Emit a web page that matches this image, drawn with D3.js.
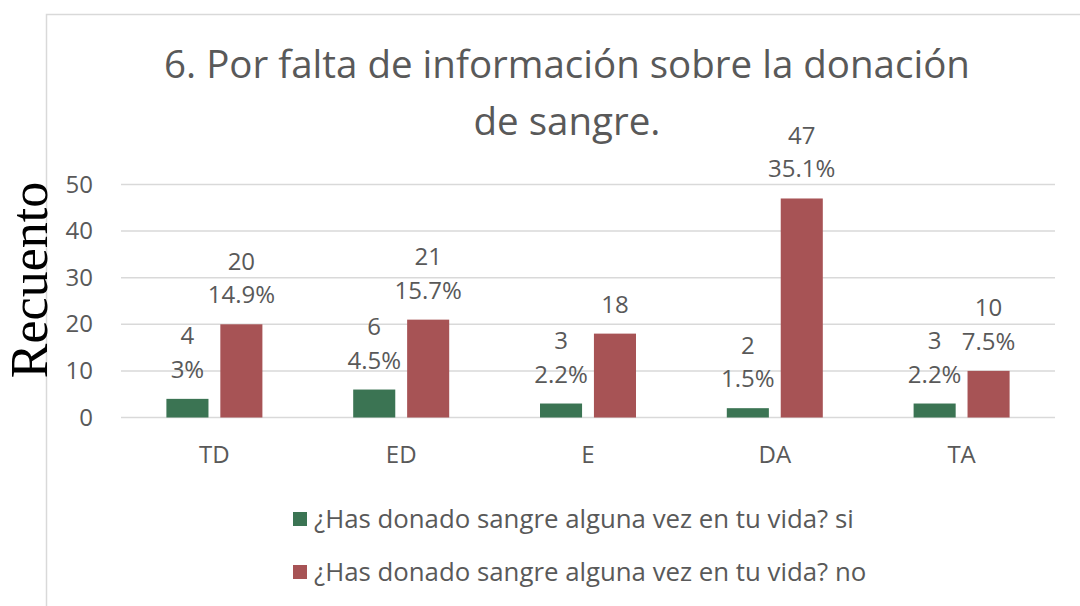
<!DOCTYPE html>
<html>
<head>
<meta charset="utf-8">
<script src="https://cdn.jsdelivr.net/npm/d3@7"></script>
<style>
  html, body { margin: 0; padding: 0; background: #fff; }
  svg { display: block; }
</style>
</head>
<body>
<div id="chart"></div>
<script>
// chart data
var categories = ["TD", "ED", "E", "DA", "TA"];
var seriesNames = ["¿Has donado sangre alguna vez en tu vida? si",
                   "¿Has donado sangre alguna vez en tu vida? no"];
var siValues = [4, 6, 3, 2, 3];
var noValues = [20, 21, 18, 47, 10];
var siPercent = ["3%", "4.5%", "2.2%", "1.5%", "2.2%"];
var noPercent = ["14.9%", "15.7%", null, "35.1%", "7.5%"];
var yTicks = [0, 10, 20, 30, 40, 50];
var titleLines = ["6. Por falta de información sobre la donación", "de sangre."];
var yTitle = "Recuento";

var colors = ["#3b7453", "#a75355"];
var font = "'Open Sans', 'Noto Sans', sans-serif";
var textGrey = "#595959";

var W = 1080, H = 606;
var plot = { left: 121, right: 1055, top: 184.5, bottom: 417.5 };

// one row per category, with both series
var rows = categories.map(function(c, i) {
  return {
    key: c,
    bars: [
      { s: 0, value: siValues[i], pct: siPercent[i] },
      { s: 1, value: noValues[i], pct: noPercent[i] }
    ]
  };
});

var svg = d3.select("#chart").append("svg")
  .attr("width", W)
  .attr("height", H);

svg.append("rect").attr("width", W).attr("height", H).attr("fill", "#fff");

// chart area border (only top and left show in the crop)
svg.append("path")
  .attr("d", "M46.5," + H + "V14.5H" + W)
  .attr("fill", "none")
  .attr("stroke", "#d9d9d9")
  .attr("stroke-width", 1.5);

// scales
var x0 = d3.scaleBand().domain(categories).range([plot.left, plot.right]);
var groupW = 96;
var x1 = d3.scaleBand().domain([0, 1]).range([0, groupW]).paddingInner(0.22);
var y = d3.scaleLinear().domain([0, 50]).range([plot.bottom, plot.top]);

// title
svg.append("text")
  .attr("x", 566)
  .attr("y", 78)
  .attr("text-anchor", "middle")
  .attr("font-family", font)
  .attr("font-size", 38.5)
  .attr("fill", textGrey)
  .selectAll("tspan")
  .data(titleLines)
  .enter()
  .append("tspan")
  .attr("x", 567)
  .attr("dy", function(d, i) { return i ? 57 : 0; })
  .text(function(d) { return d; });

// gridlines
svg.append("g")
  .selectAll("line")
  .data(yTicks)
  .enter()
  .append("line")
  .attr("x1", plot.left)
  .attr("x2", plot.right)
  .attr("y1", function(d) { return y(d); })
  .attr("y2", function(d) { return y(d); })
  .attr("stroke", "#d9d9d9")
  .attr("stroke-width", 1.5);

// y axis labels
var yAxis = d3.axisLeft(y).tickValues(yTicks).tickSize(0).tickPadding(0);
var yAxisG = svg.append("g")
  .attr("transform", "translate(93,0)")
  .call(yAxis);
yAxisG.select(".domain").remove();
yAxisG.selectAll("text")
  .attr("font-family", font)
  .attr("font-size", 24)
  .attr("fill", textGrey);

// x axis labels
var xAxis = d3.axisBottom(x0).tickSize(0).tickPadding(0);
var xAxisG = svg.append("g")
  .attr("transform", "translate(0,446)")
  .call(xAxis);
xAxisG.select(".domain").remove();
xAxisG.selectAll("text")
  .attr("font-family", font)
  .attr("font-size", 24)
  .attr("fill", textGrey)
  .attr("dy", "0.71em");

// y axis title
svg.append("text")
  .attr("transform", "translate(47,280) rotate(-90)")
  .attr("text-anchor", "middle")
  .attr("font-family", "'Liberation Serif', 'DejaVu Serif', serif")
  .attr("font-size", 52)
  .attr("fill", "#000")
  .text(yTitle);

// bars
var groups = svg.append("g")
  .selectAll("g")
  .data(rows)
  .enter()
  .append("g")
  .attr("transform", function(d) {
    return "translate(" + (x0(d.key) + (x0.bandwidth() - groupW) / 2) + ",0)";
  });

groups.selectAll("rect")
  .data(function(d) { return d.bars; })
  .enter()
  .append("rect")
  .attr("x", function(d) { return x1(d.s); })
  .attr("width", x1.bandwidth())
  .attr("y", function(d) { return y(d.value); })
  .attr("height", function(d) { return y(0) - y(d.value); })
  .attr("fill", function(d) { return colors[d.s]; });

// data labels: count on top, percentage below it
var labels = groups.selectAll("text")
  .data(function(d) { return d.bars; })
  .enter()
  .append("text")
  .attr("text-anchor", "middle")
  .attr("font-family", font)
  .attr("font-size", 24)
  .attr("fill", textGrey);

labels.append("tspan")
  .attr("x", function(d) { return x1(d.s) + x1.bandwidth() / 2; })
  .attr("y", function(d) { return y(d.value) - (d.pct ? 54.5 : 21); })
  .text(function(d) { return d.value; });

labels.filter(function(d) { return d.pct; })
  .append("tspan")
  .attr("x", function(d) { return x1(d.s) + x1.bandwidth() / 2; })
  .attr("y", function(d) { return y(d.value) - 21; })
  .text(function(d) { return d.pct; });

// legend
var legend = svg.append("g")
  .selectAll("g")
  .data(seriesNames)
  .enter()
  .append("g")
  .attr("transform", function(d, i) { return "translate(293," + (519 + i * 53) + ")"; });

legend.append("rect")
  .attr("x", 0)
  .attr("y", -7)
  .attr("width", 14)
  .attr("height", 14)
  .attr("fill", function(d, i) { return colors[i]; });

legend.append("text")
  .attr("x", 21)
  .attr("y", 0)
  .attr("dy", "0.36em")
  .attr("font-family", font)
  .attr("font-size", 25.8)
  .attr("fill", textGrey)
  .text(function(d) { return d; });
</script>
</body>
</html>
